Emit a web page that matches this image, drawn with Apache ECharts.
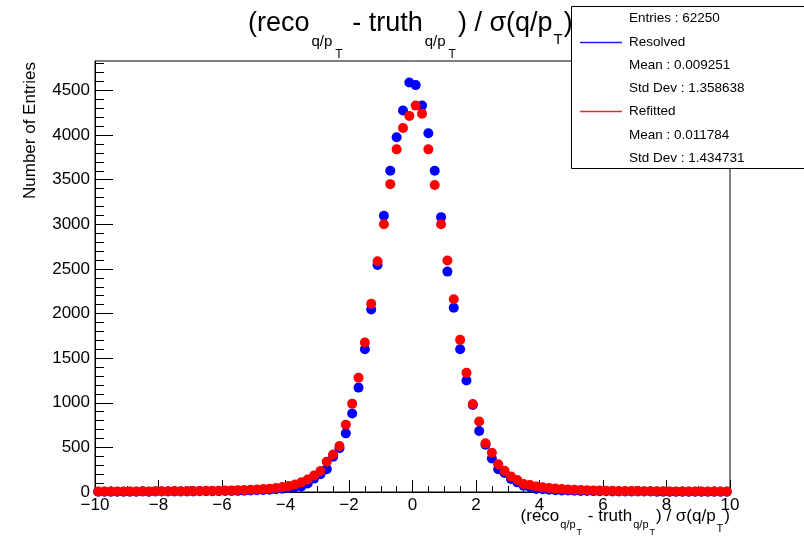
<!DOCTYPE html>
<html>
<head>
<meta charset="utf-8">
<script src="https://cdn.jsdelivr.net/npm/echarts@6/dist/echarts.min.js"></script>
<style>
  html, body { margin: 0; padding: 0; background: #fff; }
  #chart { width: 804px; height: 537px; }
</style>
</head>
<body>
<div id="chart"></div>
<script>
// 直方图：100 个 bin，范围 -10 ~ 10
var xMin = -10;
var binWidth = 0.2;

// Resolved（蓝色）每个 bin 的条目数
var resolved = [
  3, 3, 4, 3, 4, 4, 3, 5, 4, 5, 5, 6, 5, 6, 7, 7, 8, 8, 9, 10, 11, 12, 13, 15, 17, 19, 22, 25,
  30, 36, 45, 55, 62, 95, 150, 200, 256, 395, 490, 657, 880, 1170, 1600, 2045, 2545, 3095, 3600, 3975, 4275, 4590,
  4560, 4330, 4020, 3600, 3080, 2470, 2065, 1600, 1250, 975, 683, 530, 375, 256, 212, 145, 108, 70, 56, 35, 30, 25,
  21, 18, 16, 14, 12, 11, 10, 9, 8, 7, 7, 6, 6, 5, 5, 5, 4, 4, 4, 4, 3, 3, 3, 3, 3, 3, 2, 2
];

// Refitted（红色）每个 bin 的条目数
var refitted = [
  6, 5, 7, 6, 5, 7, 6, 8, 7, 8, 9, 8, 10, 9, 11, 12, 11, 13, 14, 15, 17, 18, 21, 23, 26, 29, 33, 37,
  45, 55, 68, 85, 108, 140, 185, 235, 340, 420, 515, 755, 990, 1280, 1675, 2110, 2585, 3000, 3450, 3840, 4080, 4215,
  4330, 4240, 3840, 3440, 3000, 2595, 2160, 1705, 1335, 985, 790, 545, 440, 310, 237, 175, 135, 90, 78, 63, 52, 45,
  38, 33, 29, 26, 23, 20, 18, 16, 15, 13, 12, 11, 10, 10, 9, 9, 8, 8, 7, 7, 7, 6, 6, 6, 5, 5, 5, 5
];

// y 轴刻度
var yTicks = [0, 500, 1000, 1500, 2000, 2500, 3000, 3500, 4000, 4500];
var yMax = 4830;

// 统计框文字
var statsLines = [
  'Entries : 62250',
  'Resolved',
  'Mean : 0.009251',
  'Std Dev : 1.358638',
  'Refitted',
  'Mean : 0.011784',
  'Std Dev : 1.434731'
];

var FONT = '"Liberation Sans", Arial, Helvetica, sans-serif';

// 把 bin 中心和值拼成 [x, y]
function toPoints(values) {
  return values.map(function (v, i) {
    return [+(xMin + binWidth * (i + 0.5)).toFixed(2), v];
  });
}

// y 方向次刻度（每 100 一个）
var yMinor = [];
for (var m = 0; m <= 4800; m += 100) {
  if (m % 500 !== 0) yMinor.push(m);
}

// 用 canvas 测量文字宽度，模拟上下标排版
var measureCtx = document.createElement('canvas').getContext('2d');
function textWidth(t, size) {
  measureCtx.font = size + 'px ' + FONT;
  return measureCtx.measureText(t).width;
}
function latex(prefix, pieces, x0, align) {
  var total = 0;
  pieces.forEach(function (p) { total += (p.gap || 0) + textWidth(p.t, p.s); });
  var x = align === 'right' ? x0 - total : x0;
  var out = [];
  pieces.forEach(function (p, i) {
    x += p.gap || 0;
    out.push({
      type: 'text', id: prefix + i,
      x: x,
      y: p.b - 0.35 * p.s,
      z: 100,
      style: {
        text: p.t, fontSize: p.s, fontFamily: FONT, fill: '#000',
        align: 'left', verticalAlign: 'middle'
      }
    });
    x += textWidth(p.t, p.s);
  });
  return out;
}

var titlePieces = [
  { t: '(reco', s: 27, b: 33 },
  { t: 'q/p', s: 15, b: 47, gap: 2 },
  { t: 'T', s: 12, b: 59, gap: 3 },
  { t: ' - truth', s: 27, b: 33, gap: 2 },
  { t: 'q/p', s: 15, b: 47, gap: 2 },
  { t: 'T', s: 12, b: 59, gap: 3 },
  { t: ') / σ(q/p', s: 27, b: 33, gap: 2 },
  { t: 'T', s: 15, b: 45, gap: 1 },
  { t: ')', s: 27, b: 33, gap: 1 }
];

var xTitlePieces = [
  { t: '(reco', s: 17, b: 522 },
  { t: 'q/p', s: 11, b: 529, gap: 1 },
  { t: 'T', s: 9, b: 536, gap: 1 },
  { t: ' - truth', s: 17, b: 522, gap: 1 },
  { t: 'q/p', s: 11, b: 529, gap: 1 },
  { t: 'T', s: 9, b: 536, gap: 1 },
  { t: ') / σ(q/p', s: 17, b: 522, gap: 1 },
  { t: 'T', s: 11, b: 533, gap: 1 },
  { t: ')', s: 17, b: 522, gap: 1 }
];

var graphics = [];
graphics = graphics.concat(latex('title', titlePieces, 248, 'left'));
graphics = graphics.concat(latex('xtitle', xTitlePieces, 730, 'right'));

// y 轴标题
graphics.push({
  type: 'text', id: 'ytitle', x: 30, y: 62, rotation: Math.PI / 2, z: 100,
  style: { text: 'Number of Entries', fontSize: 17, fontFamily: FONT, fill: '#000', align: 'right', verticalAlign: 'middle' }
});

// 统计框
graphics.push({
  type: 'rect', id: 'statsBox', z: 100,
  shape: { x: 571.5, y: 6.5, width: 240, height: 162 },
  style: { fill: '#fff', stroke: '#000', lineWidth: 1 }
});
var statsY = [18.5, 42, 65, 88.5, 111.5, 135, 158];
statsLines.forEach(function (t, i) {
  graphics.push({
    type: 'text', id: 'stats' + i, x: 629, y: statsY[i], z: 101,
    style: { text: t, fontSize: 13.5, fontFamily: FONT, fill: '#000', align: 'left', verticalAlign: 'middle' }
  });
});
graphics.push({
  type: 'rect', id: 'lineResolved', z: 102,
  shape: { x: 580, y: 41.75, width: 42, height: 1.5 },
  style: { fill: '#2020e0' }
});
graphics.push({
  type: 'rect', id: 'lineRefitted', z: 102,
  shape: { x: 580, y: 110.75, width: 42, height: 1.5 },
  style: { fill: '#ff2020' }
});

var chart = echarts.init(document.getElementById('chart'));

var option = {
  animation: false,
  backgroundColor: '#fff',
  grid: {
    left: 95, right: 74, top: 61, bottom: 45,
    show: true, borderColor: '#000', borderWidth: 1, backgroundColor: 'transparent'
  },
  xAxis: {
    type: 'value', min: -10, max: 10, interval: 2,
    axisLine: { show: true, onZero: false, lineStyle: { color: '#000', width: 1 } },
    axisTick: { show: true, inside: true, length: 12, lineStyle: { color: '#000' } },
    minorTick: { show: true, splitNumber: 4, length: 6, lineStyle: { color: '#000' } },
    axisLabel: {
      color: '#000', fontSize: 17, fontFamily: FONT, margin: 5,
      formatter: function (v) { return String(v).replace('-', '\u2212'); }
    },
    splitLine: { show: false }
  },
  yAxis: [
    {
      type: 'value', min: 0, max: yMax, interval: 500, position: 'left',
      axisLine: { show: true, onZero: false, lineStyle: { color: '#000', width: 1 } },
      axisTick: { show: true, inside: true, length: 18, customValues: yTicks, lineStyle: { color: '#000' } },
      axisLabel: {
        color: '#000', fontSize: 17, fontFamily: FONT, margin: 5, customValues: yTicks,
        formatter: function (v) { return String(v); }
      },
      splitLine: { show: false }
    },
    {
      // 次刻度
      type: 'value', min: 0, max: yMax, position: 'left', offset: 0,
      axisLine: { show: false, onZero: false },
      axisTick: { show: true, inside: true, length: 9, customValues: yMinor, lineStyle: { color: '#000' } },
      axisLabel: { show: false },
      splitLine: { show: false }
    }
  ],
  graphic: graphics,
  series: [
    {
      name: 'Resolved', type: 'scatter', yAxisIndex: 0,
      symbol: 'circle', symbolSize: 10,
      itemStyle: { color: '#0000ff', opacity: 1 },
      data: toPoints(resolved), z: 3
    },
    {
      name: 'Refitted', type: 'scatter', yAxisIndex: 0,
      symbol: 'circle', symbolSize: 10,
      itemStyle: { color: '#ff0000', opacity: 1 },
      data: toPoints(refitted), z: 4
    }
  ]
};

chart.setOption(option);
</script>
</body>
</html>
